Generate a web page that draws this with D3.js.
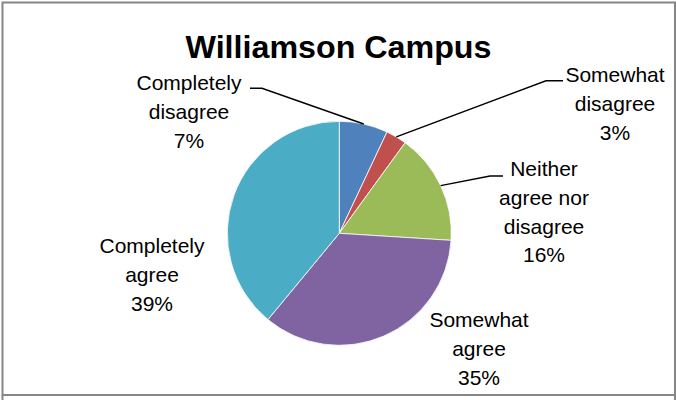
<!DOCTYPE html>
<html><head><meta charset="utf-8">
<script src="https://cdn.jsdelivr.net/npm/d3@7"></script>
<style>body{margin:0;background:#fff}svg{display:block}</style>
</head><body>
<script>
const categories = ["Completely disagree","Somewhat disagree","Neither agree nor disagree","Somewhat agree","Completely agree"];
const values = [7, 3, 16, 35, 39];
const labelLines = [["Completely","disagree"],["Somewhat","disagree"],["Neither","agree nor","disagree"],["Somewhat","agree"],["Completely","agree"]];
const colors = ["#4F81BD","#C0504D","#9BBB59","#8064A2","#4BACC6"];
const title = "Williamson Campus";

// layout
const W = 676, H = 400;
const cx = 339.3, cy = 233.3, R = 112;
const labelLayout = [
  {x:189, y:90,  elbow:[[250,88.3],[262,88.3]]},
  {x:615, y:82,  elbow:[[563,80.7],[546,80.7]]},
  {x:544, y:176, elbow:[[503,176],[490,176]]},
  {x:479, y:327, elbow:null},
  {x:152, y:253, elbow:null}
];
const lineH = 28.8;

const svg = d3.select("body").append("svg").attr("width", W).attr("height", H);
svg.append("rect").attr("width", W).attr("height", H).attr("fill", "#fff");

// chart border
svg.append("rect").attr("x", 2.5).attr("y", 2.5).attr("width", 672.5).attr("height", 392.5)
  .attr("fill", "none").attr("stroke", "#868686").attr("stroke-width", 2);
svg.append("line").attr("x1", 2.5).attr("x2", 2.5).attr("y1", 395).attr("y2", H).attr("stroke", "#868686").attr("stroke-width", 2);
svg.append("line").attr("x1", 675).attr("x2", 675).attr("y1", 395).attr("y2", H).attr("stroke", "#868686").attr("stroke-width", 2);

svg.append("text").attr("x", 338.5).attr("y", 58.3).attr("text-anchor", "middle")
  .attr("font-family", "Liberation Sans, Arial, sans-serif").attr("font-weight", "bold")
  .attr("font-size", 31).attr("textLength", 306).attr("lengthAdjust", "spacingAndGlyphs")
  .attr("fill", "#000").text(title);

const data = categories.map((c, i) => ({cat: c, value: values[i], i}));
const pie = d3.pie().value(d => d.value).sort(null);
const arcs = pie(data);
const arc = d3.arc().innerRadius(0).outerRadius(R);
const total = d3.sum(values);

const g = svg.append("g").attr("transform", `translate(${cx},${cy})`);
g.selectAll("path").data(arcs).join("path")
  .attr("d", arc).attr("fill", d => colors[d.data.i])
  .attr("stroke", "#fff").attr("stroke-width", 0.8);

// leader lines
arcs.forEach((a, i) => {
  const L = labelLayout[i];
  if (!L.elbow) return;
  const mid = (a.startAngle + a.endAngle) / 2;
  const ex = cx + Math.sin(mid) * R, ey = cy - Math.cos(mid) * R;
  const pts = [...L.elbow, [ex, ey]];
  svg.append("path").attr("d", d3.line()(pts)).attr("fill", "none")
    .attr("stroke", "#000").attr("stroke-width", 1.5);
});

// labels
arcs.forEach((a, i) => {
  const L = labelLayout[i];
  const lines = [...labelLines[i], Math.round(a.data.value / total * 100) + "%"];
  const t = svg.append("text").attr("text-anchor", "middle")
    .attr("font-family", "Liberation Sans, Arial, sans-serif").attr("font-size", 21).attr("fill", "#000");
  lines.forEach((s, k) => {
    t.append("tspan").attr("x", L.x).attr("y", L.y + k * lineH).text(s);
  });
});
</script>
</body></html>
